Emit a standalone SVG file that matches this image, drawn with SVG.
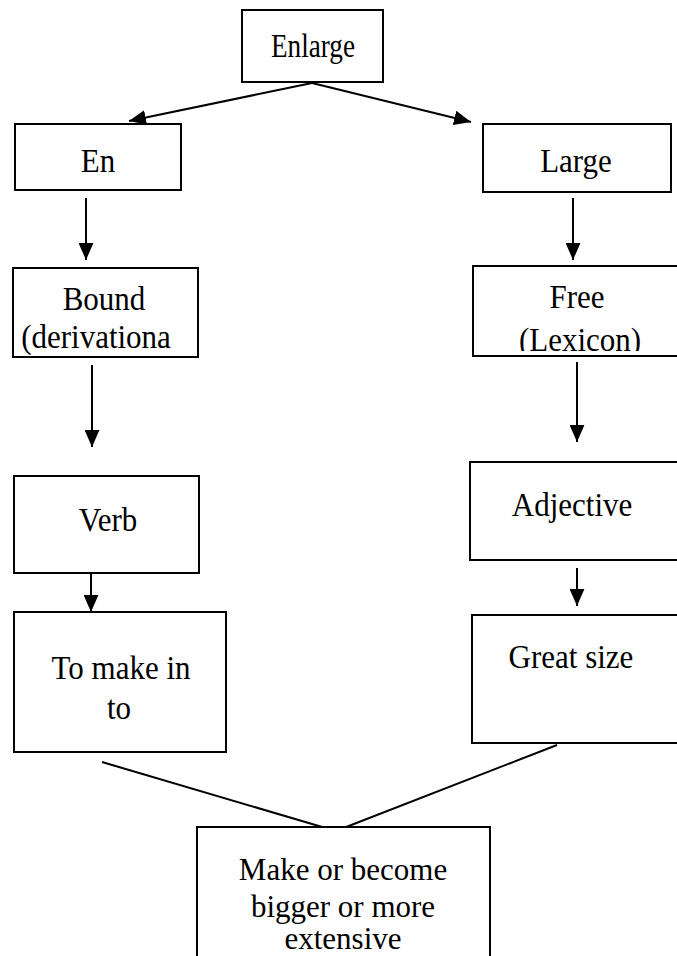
<svg xmlns="http://www.w3.org/2000/svg" width="677" height="956" viewBox="0 0 677 956">
  <style>
    .box { fill: #ffffff; stroke: #000000; stroke-width: 2; }
    text { font-family: 'Liberation Serif', 'Times New Roman', serif; font-size: 31px; fill: #000000; text-anchor: middle; }
    .conn { stroke: #000000; stroke-width: 2; fill: none; }
  </style>
  <defs>
    <marker id="arrowBig" viewBox="0 0 16 14" refX="16" refY="7" markerWidth="17" markerHeight="15" markerUnits="userSpaceOnUse" orient="auto">
      <path d="M0,0 L16,7 L0,14 z" fill="#000000"/>
    </marker>
    <clipPath id="clipFree">
      <rect x="473" y="266" width="204" height="85"/>
    </clipPath>
  </defs>
  <rect width="677" height="956" fill="#ffffff"/>

  <!-- connectors -->
  <g id="connectors">
    <line class="conn" x1="312" y1="83" x2="129" y2="121" marker-end="url(#arrowBig)"/>
    <line class="conn" x1="312" y1="83" x2="471" y2="122" marker-end="url(#arrowBig)"/>
    <line class="conn" x1="86" y1="198" x2="86" y2="260" marker-end="url(#arrowBig)"/>
    <line class="conn" x1="573" y1="198" x2="573" y2="260" marker-end="url(#arrowBig)"/>
    <line class="conn" x1="92" y1="365" x2="92" y2="447" marker-end="url(#arrowBig)"/>
    <line class="conn" x1="577" y1="362" x2="577" y2="442" marker-end="url(#arrowBig)"/>
    <line class="conn" x1="91" y1="573" x2="91" y2="612" marker-end="url(#arrowBig)"/>
    <line class="conn" x1="577" y1="568" x2="577" y2="606" marker-end="url(#arrowBig)"/>
    <line class="conn" x1="102" y1="762" x2="329" y2="829"/>
    <line class="conn" x1="557" y1="745" x2="341" y2="829"/>
  </g>

  <!-- labels: serif, stretched a little in height about the baseline -->
  <g id="enlarge">
    <rect class="box" x="242" y="10" width="141" height="72"/>
    <text transform="translate(313,57) scale(1,1.12)" textLength="84" lengthAdjust="spacingAndGlyphs">Enlarge</text>
  </g>

  <g id="en">
    <rect class="box" x="15" y="124" width="166" height="66"/>
    <text transform="translate(98,172) scale(1,1.12)">En</text>
  </g>

  <g id="large">
    <rect class="box" x="483" y="124" width="188" height="68"/>
    <text transform="translate(576,172) scale(1,1.12)">Large</text>
  </g>

  <g id="bound">
    <rect class="box" x="13" y="268" width="185" height="89"/>
    <text transform="translate(104,310) scale(1,1.08)">Bound</text>
    <text transform="translate(96,348) scale(1,1.08)">(derivationa</text>
  </g>

  <g id="free">
    <rect class="box" x="473" y="266" width="206" height="90"/>
    <g clip-path="url(#clipFree)">
      <text transform="translate(577,308) scale(1,1.12)">Free</text>
      <text transform="translate(580,351) scale(1,1.12)">(Lexicon)</text>
    </g>
  </g>

  <g id="verb">
    <rect class="box" x="14" y="476" width="185" height="97"/>
    <text transform="translate(108,531) scale(1,1.12)">Verb</text>
  </g>

  <g id="adjective">
    <rect class="box" x="470" y="462" width="209" height="98"/>
    <text transform="translate(572,516) scale(1,1.12)">Adjective</text>
  </g>

  <g id="to-make">
    <rect class="box" x="14" y="612" width="212" height="140"/>
    <text transform="translate(121,679) scale(1,1.12)">To make in</text>
    <text transform="translate(119,719) scale(1,1.12)">to</text>
  </g>

  <g id="great-size">
    <rect class="box" x="472" y="615" width="207" height="128"/>
    <text transform="translate(571,668) scale(1,1.12)">Great size</text>
  </g>

  <g id="result">
    <rect class="box" x="197" y="827" width="293" height="140"/>
    <text x="343" y="880">Make or become</text>
    <text x="343" y="917">bigger or more</text>
    <text x="343" y="949">extensive</text>
  </g>
</svg>
